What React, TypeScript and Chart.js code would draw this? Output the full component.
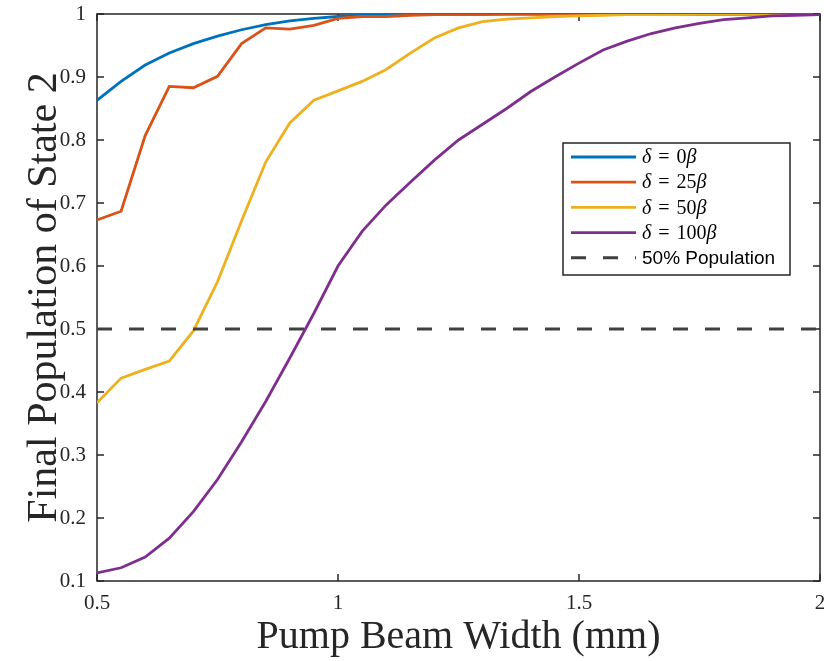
import React, { useEffect, useRef } from "react";
import { Chart, registerables } from "chart.js";

Chart.register(...registerables);

// ---------- data ----------
const widths = [
  0.5, 0.55, 0.6, 0.65, 0.7, 0.75, 0.8, 0.85, 0.9, 0.95,
  1.0, 1.05, 1.1, 1.15, 1.2, 1.25, 1.3, 1.35, 1.4, 1.45,
  1.5, 1.55, 1.6, 1.65, 1.7, 1.75, 1.8, 1.85, 1.9, 1.95, 2.0,
];

const delta0 = [
  0.863, 0.893, 0.919, 0.938, 0.953, 0.965, 0.975, 0.983, 0.989, 0.993,
  0.996, 0.998, 0.999, 0.999, 1, 1, 1, 1, 1, 1,
  1, 1, 1, 1, 1, 1, 1, 1, 1, 1, 1,
];

const delta25 = [
  0.673, 0.687, 0.807, 0.885, 0.883, 0.901, 0.953, 0.978, 0.976, 0.982,
  0.993, 0.996, 0.996, 0.998, 0.999, 0.999, 0.999, 1, 1, 1,
  1, 1, 1, 1, 1, 1, 1, 1, 1, 1, 1,
];

const delta50 = [
  0.383, 0.422, 0.436, 0.449, 0.497, 0.575, 0.672, 0.765, 0.827, 0.863,
  0.878, 0.893, 0.912, 0.938, 0.962, 0.978, 0.988, 0.992, 0.994, 0.996,
  0.997, 0.998, 0.999, 0.999, 0.999, 1, 1, 1, 1, 1, 1,
];

const delta100 = [
  0.113, 0.121, 0.138, 0.168, 0.21, 0.261, 0.321, 0.385, 0.454, 0.525,
  0.6, 0.655, 0.697, 0.733, 0.768, 0.8, 0.825, 0.85, 0.877, 0.9,
  0.922, 0.943, 0.957, 0.969, 0.978, 0.985, 0.991, 0.994, 0.997, 0.998, 0.999,
];

const seriesLabels = ["δ = 0β", "δ = 25β", "δ = 50β", "δ = 100β"];
const seriesValues = [delta0, delta25, delta50, delta100];
const seriesColors = ["#0072BD", "#D95319", "#EDB120", "#7E2F8E"];

const thresholdLabel = "50% Population";
const thresholdValue = 0.5;

const xTicks = [0.5, 1, 1.5, 2];
const yTicks = [0.1, 0.2, 0.3, 0.4, 0.5, 0.6, 0.7, 0.8, 0.9, 1];

const xTitle = "Pump Beam Width (mm)";
const yTitle = "Final Population of State 2";

// ---------- styles ----------
const AXIS = "#262626";
const SERIF = "'Liberation Serif', 'Times New Roman', serif";
const SANS = "'Liberation Sans', Arial, sans-serif";

function drawMathText(ctx: CanvasRenderingContext2D, text: string, x: number, y: number, size: number) {
  let cx = x;
  for (const ch of text) {
    const greek = /[\u0370-\u03FF]/.test(ch);
    ctx.font = `${greek ? "italic " : ""}${size}px ${SERIF}`;
    ctx.fillText(ch, cx, y);
    cx += ctx.measureText(ch).width + (ch === " " ? 2 : 0);
  }
}

const zeroPadding = (s: any) => {
  s.paddingTop = 0;
  s.paddingBottom = 0;
  s.paddingLeft = 0;
  s.paddingRight = 0;
};

const boxPlugin = {
  id: "matlabBox",
  beforeDatasetsDraw(chart: any) {
    const { ctx, chartArea, scales } = chart;
    const { left, right, top, bottom } = chartArea;
    const x = scales.x;
    const y = scales.y;
    const tl = 7;
    ctx.save();
    ctx.strokeStyle = AXIS;
    ctx.lineWidth = 1.5;
    ctx.strokeRect(left, top, right - left, bottom - top);
    ctx.beginPath();
    xTicks.forEach((v) => {
      const px = x.getPixelForValue(v);
      ctx.moveTo(px, bottom);
      ctx.lineTo(px, bottom - tl);
      ctx.moveTo(px, top);
      ctx.lineTo(px, top + tl);
    });
    yTicks.forEach((v) => {
      const py = y.getPixelForValue(v);
      ctx.moveTo(left, py);
      ctx.lineTo(left + tl, py);
      ctx.moveTo(right, py);
      ctx.lineTo(right - tl, py);
    });
    ctx.stroke();
    ctx.restore();
  },
  afterDatasetsDraw(chart: any) {
    const { ctx, chartArea } = chart;
    const { right, top } = chartArea;
    const bw = 227;
    const bh = 132;
    const bx = right - 257;
    const by = top + 129;
    ctx.save();
    ctx.fillStyle = "#ffffff";
    ctx.fillRect(bx, by, bw, bh);
    ctx.strokeStyle = AXIS;
    ctx.lineWidth = 1.5;
    ctx.strokeRect(bx, by, bw, bh);
    const datasets = chart.data.datasets;
    datasets.forEach((ds: any, i: number) => {
      const ry = by + 14 + i * 25.2;
      ctx.save();
      ctx.strokeStyle = ds.borderColor;
      ctx.lineWidth = ds.borderWidth;
      ctx.setLineDash(ds.borderDash || []);
      ctx.beginPath();
      ctx.moveTo(bx + 8, ry);
      ctx.lineTo(bx + 73, ry);
      ctx.stroke();
      ctx.restore();
      ctx.fillStyle = "#000000";
      ctx.textBaseline = "middle";
      ctx.textAlign = "left";
      if (ds.isThreshold) {
        ctx.font = `19px ${SANS}`;
        ctx.fillText(ds.label, bx + 79, ry + 1);
      } else {
        drawMathText(ctx, ds.label, bx + 79, ry + 1, 20);
      }
    });
    ctx.restore();
  },
};

export default function App() {
  const canvasRef = useRef<HTMLCanvasElement | null>(null);

  useEffect(() => {
    document.body.style.margin = "0";
    const canvas = canvasRef.current;
    if (!canvas) return;

    const datasets: any[] = seriesValues.map((vals, i) => ({
      label: seriesLabels[i],
      data: widths.map((w, j) => ({ x: w, y: vals[j] })),
      borderColor: seriesColors[i],
      backgroundColor: seriesColors[i],
      borderWidth: 2.8,
      pointRadius: 0,
      tension: 0,
      fill: false,
      order: 10 - i,
    }));
    datasets.push({
      label: thresholdLabel,
      isThreshold: true,
      data: [
        { x: widths[0], y: thresholdValue },
        { x: widths[widths.length - 1], y: thresholdValue },
      ],
      borderColor: "#404040",
      backgroundColor: "#404040",
      borderWidth: 3,
      borderDash: [15, 17],
      pointRadius: 0,
      fill: false,
      order: 0,
    });

    const chart = new Chart(canvas, {
      type: "line",
      data: { datasets },
      plugins: [boxPlugin as any],
      options: {
        responsive: false,
        animation: false,
        devicePixelRatio: 1,
        layout: { padding: { top: 14, right: 4, left: 0, bottom: 0 } },
        plugins: {
          legend: { display: false },
          tooltip: { enabled: false },
        },
        scales: {
          x: {
            type: "linear",
            min: 0.5,
            max: 2,
            afterBuildTicks: (s: any) => {
              s.ticks = xTicks.map((v) => ({ value: v }));
            },
            afterFit: (s: any) => {
              s.height = 80;
              zeroPadding(s);
            },
            grid: { display: false, drawTicks: false },
            border: { display: false },
            ticks: {
              color: AXIS,
              font: { family: SERIF, size: 21 },
              padding: 10,
              maxRotation: 0,
              autoSkip: false,
              callback: (v: any) => String(v),
            },
            title: {
              display: true,
              text: xTitle,
              color: AXIS,
              font: { family: SERIF, size: 40, lineHeight: 1 },
              padding: { top: 0, bottom: 3.5 },
            },
          },
          y: {
            type: "linear",
            min: 0.1,
            max: 1,
            afterBuildTicks: (s: any) => {
              s.ticks = yTicks.map((v) => ({ value: v }));
            },
            afterFit: (s: any) => {
              s.width = 97;
              zeroPadding(s);
            },
            grid: { display: false, drawTicks: false },
            border: { display: false },
            ticks: {
              color: AXIS,
              font: { family: SERIF, size: 21 },
              padding: 11,
              autoSkip: false,
              callback: (v: any) => (Number(v) === 1 ? "1" : Number(v).toFixed(1)),
            },
            title: {
              display: true,
              text: yTitle,
              color: AXIS,
              font: { family: SERIF, size: 42, lineHeight: 1 },
              padding: { top: 24, bottom: 0 },
            },
          },
        },
      } as any,
    });

    return () => chart.destroy();
  }, []);

  return (
    <div style={{ width: 824, height: 661, background: "#ffffff" }}>
      <canvas ref={canvasRef} width={824} height={661} style={{ display: "block" }} />
    </div>
  );
}
